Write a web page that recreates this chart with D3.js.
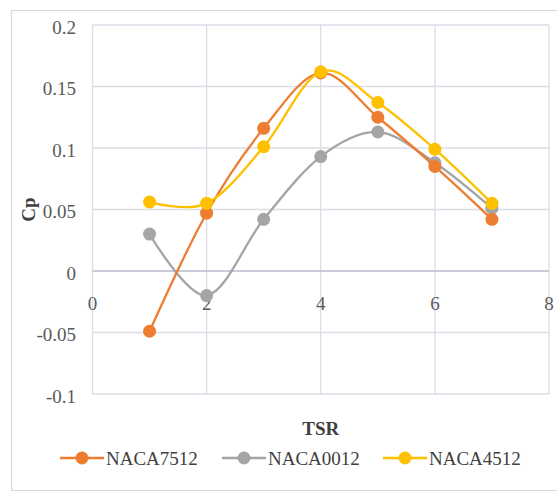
<!DOCTYPE html>
<html>
<head>
<meta charset="utf-8">
<script src="https://cdn.jsdelivr.net/npm/d3@7"></script>
<style>
  html, body { margin: 0; padding: 0; background: #fff; }
  svg { display: block; }
</style>
</head>
<body>
<svg id="chart" width="557" height="493"></svg>
<script>
// Power coefficient vs tip speed ratio for three airfoils
const tsr = [1, 2, 3, 4, 5, 6, 7];
const naca7512 = [-0.049, 0.047, 0.116, 0.161, 0.125, 0.085, 0.042];
const naca0012 = [0.030, -0.020, 0.042, 0.093, 0.113, 0.088, 0.051];
const naca4512 = [0.056, 0.055, 0.101, 0.162, 0.137, 0.099, 0.055];
const xTicks = [0, 2, 4, 6, 8];
const yTicks = [-0.1, -0.05, 0, 0.05, 0.1, 0.15, 0.2];
const yTickLabels = ["-0.1", "-0.05", "0", "0.05", "0.1", "0.15", "0.2"];

const series = [
  { name: "NACA7512", values: naca7512, color: "#ED7D31" },
  { name: "NACA0012", values: naca0012, color: "#A5A5A5" },
  { name: "NACA4512", values: naca4512, color: "#FFC000" }
];
// draw order: gray underneath, then orange, then yellow
const drawOrder = [1, 0, 2];

const svg = d3.select("#chart");
const font = "Liberation Serif, Times New Roman, DejaVu Serif, serif";

// outer chart frame
svg.append("rect")
  .attr("x", 11.5).attr("y", 10.5)
  .attr("width", 560).attr("height", 480)
  .attr("fill", "#fff").attr("stroke", "#D9D9D9").attr("stroke-width", 1.2);

const x = d3.scaleLinear().domain([0, 8]).range([92.5, 549]);
const y = d3.scaleLinear().domain([-0.1, 0.2]).range([394, 25]);

// gridlines
const grid = svg.append("g").attr("stroke", "#D9DEE7").attr("stroke-width", 1.3);
grid.selectAll("line.h").data(yTicks).join("line")
  .attr("x1", x(0)).attr("x2", x(8))
  .attr("y1", d => y(d)).attr("y2", d => y(d));
grid.selectAll("line.v").data(xTicks).join("line")
  .attr("x1", d => x(d)).attr("x2", d => x(d))
  .attr("y1", y(0.2)).attr("y2", y(-0.1));

// horizontal axis line at zero
svg.append("line")
  .attr("x1", x(0)).attr("x2", x(8))
  .attr("y1", y(0)).attr("y2", y(0))
  .attr("stroke", "#BFC5D2").attr("stroke-width", 1.3);

// y tick labels
svg.append("g").selectAll("text").data(yTicks).join("text")
  .attr("x", 76).attr("y", d => y(d) + 2)
  .attr("dy", "0.35em")
  .attr("text-anchor", "end")
  .attr("font-family", font).attr("font-size", 19)
  .attr("fill", "#595959")
  .text((d, i) => yTickLabels[i]);

// x tick labels sit just below the zero line
svg.append("g").selectAll("text").data(xTicks).join("text")
  .attr("x", d => x(d)).attr("y", y(0) + 32)
  .attr("dy", "0.35em")
  .attr("text-anchor", "middle")
  .attr("font-family", font).attr("font-size", 19)
  .attr("fill", "#595959")
  .text(d => d);

// axis titles
svg.append("text")
  .attr("x", (x(0) + x(8)) / 2).attr("y", 428)
  .attr("dy", "0.35em").attr("text-anchor", "middle")
  .attr("font-family", font).attr("font-size", 19).attr("font-weight", "bold")
  .attr("fill", "#404040").text("TSR");
svg.append("text")
  .attr("transform", `translate(28,${(y(0.2) + y(-0.1)) / 2}) rotate(-90)`)
  .attr("dy", "0.35em").attr("text-anchor", "middle")
  .attr("font-family", font).attr("font-size", 19).attr("font-weight", "bold")
  .attr("fill", "#404040").text("Cp");

// smoothed series lines with markers
const line = d3.line()
  .x((d, i) => x(tsr[i]))
  .y(d => y(d))
  .curve(d3.curveCardinal.tension(0));

drawOrder.forEach(k => {
  const s = series[k];
  const g = svg.append("g");
  g.append("path")
    .attr("d", line(s.values))
    .attr("fill", "none").attr("stroke", s.color)
    .attr("stroke-width", 2.3);
  g.selectAll("circle").data(s.values).join("circle")
    .attr("cx", (d, i) => x(tsr[i])).attr("cy", d => y(d))
    .attr("r", 6.5).attr("fill", s.color);
});

// legend
const legendPos = [60, 222, 383];
const legend = svg.append("g");
series.forEach((s, i) => {
  const lx = legendPos[i], ly = 458;
  legend.append("line")
    .attr("x1", lx).attr("x2", lx + 44).attr("y1", ly).attr("y2", ly)
    .attr("stroke", s.color).attr("stroke-width", 2.3);
  legend.append("circle")
    .attr("cx", lx + 22).attr("cy", ly).attr("r", 6.5).attr("fill", s.color);
  legend.append("text")
    .attr("x", lx + 46).attr("y", ly).attr("dy", "0.35em")
    .attr("font-family", font).attr("font-size", 19)
    .attr("fill", "#404040").text(s.name);
});
</script>
</body>
</html>
